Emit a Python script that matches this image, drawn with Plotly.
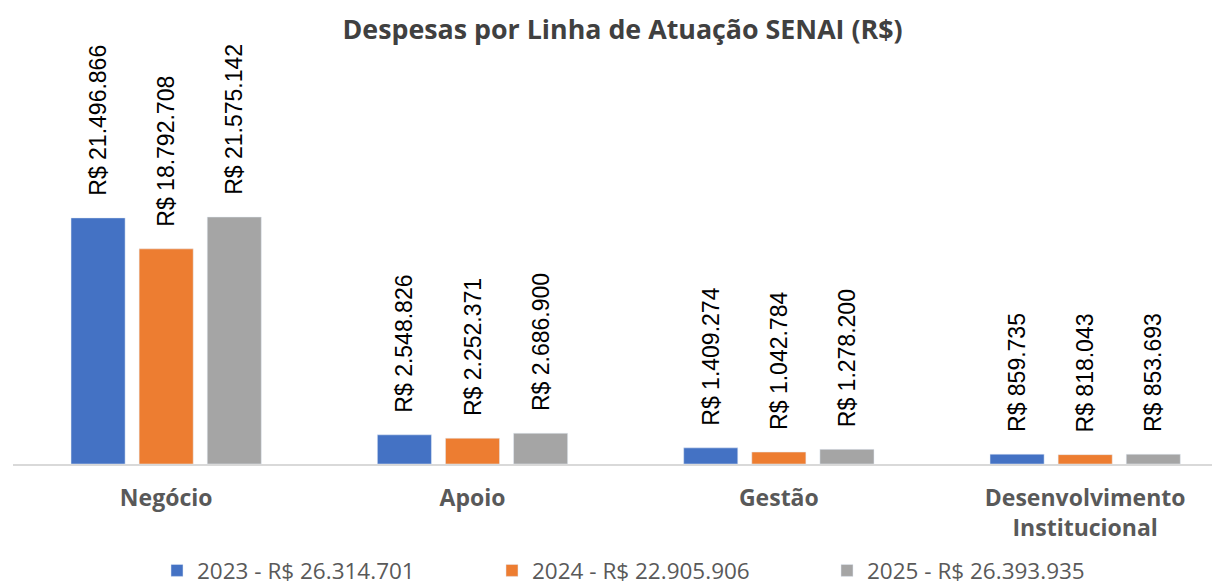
import plotly.graph_objects as go

categories = ["Negócio", "Apoio", "Gestão", "Desenvolvimento<br>Institucional"]
series_names = ["2023 - R$ 26.314.701", "2024 - R$ 22.905.906", "2025 - R$ 26.393.935"]
values_2023 = [21496866, 2548826, 1409274, 859735]
values_2024 = [18792708, 2252371, 1042784, 818043]
values_2025 = [21575142, 2686900, 1278200, 853693]
colors = ["#4472C4", "#ED7D31", "#A5A5A5"]


def fmt(v):
    return "\u00a0\u00a0\u00a0R$ " + f"{v:,}".replace(",", ".")


fig = go.Figure()
for name, vals, col in zip(series_names, [values_2023, values_2024, values_2025], colors):
    fig.add_trace(go.Bar(
        x=categories, y=vals, name=name, marker_color=col,
        text=[fmt(v) for v in vals], textposition="outside", textangle=-90,
        constraintext="none",
        textfont=dict(family="Liberation Sans, Arial", size=23, color="#000000"),
        cliponaxis=False,
    ))

fig.update_layout(
    width=1220, height=587,
    margin=dict(l=13, r=8, t=45, b=123, autoexpand=False),
    paper_bgcolor="white", plot_bgcolor="white",
    barmode="group", bargap=0.333, bargroupgap=0.206,
    title=dict(text="<b>Despesas por Linha de Atuação SENAI (R$)</b>",
               x=0.5103, xref="container", xanchor="center",
               y=0.949, yref="container", yanchor="middle",
               font=dict(family="Open Sans", size=26.8, color="#404040")),
    xaxis=dict(range=[-0.5, 3.414], showgrid=False, showline=True, linecolor="#D9D9D9",
               linewidth=1.5, ticks="", tickfont=dict(family="Open Sans", size=23, color="#595959"),
               tickprefix="<b>", ticksuffix="</b>", ticklabelstandoff=13),
    yaxis=dict(range=[0, 36.6e6], visible=False, showgrid=False),
    legend=dict(orientation="h", x=0.1201, xanchor="left",
                y=-0.2035, yanchor="top",
                font=dict(family="Open Sans", size=22.5, color="#595959"),
                entrywidth=290, traceorder="normal"),
)

fig.write_html("out.html", config={"displayModeBar": False},
               post_script="document.body.style.margin='0';")
